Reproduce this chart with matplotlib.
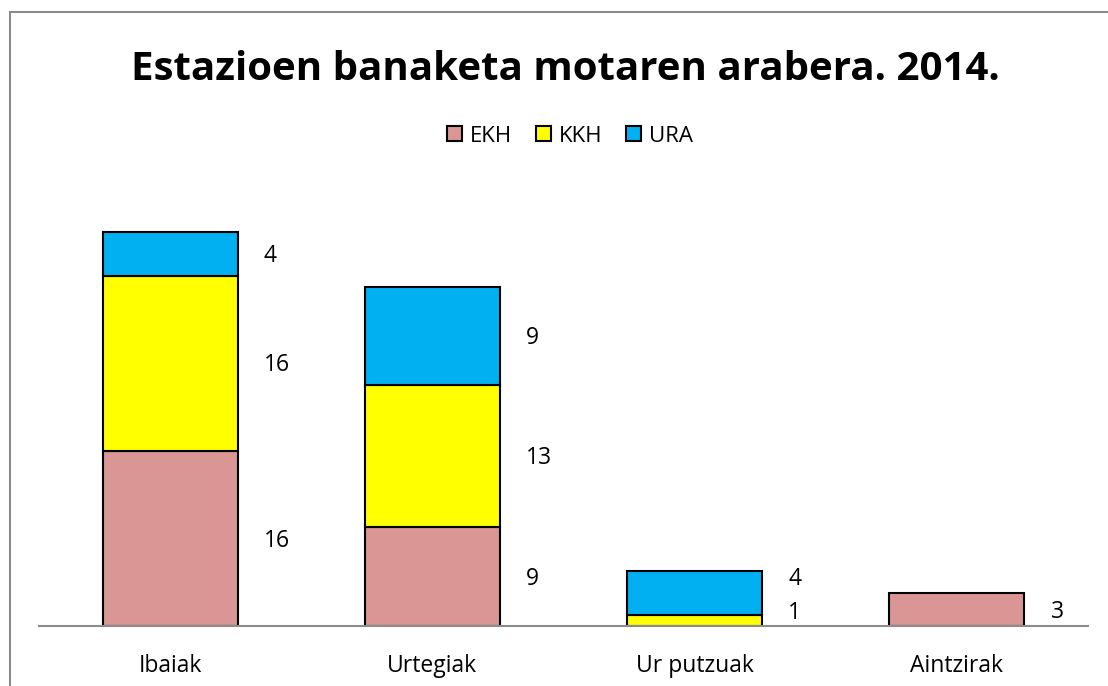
import matplotlib
matplotlib.use("Agg")
import matplotlib.pyplot as plt
from matplotlib.patches import Rectangle, Patch
import numpy as np

categories = ["Ibaiak", "Urtegiak", "Ur putzuak", "Aintzirak"]
series_names = ["EKH", "KKH", "URA"]
ekh = [16, 9, 0, 3]
kkh = [16, 13, 1, 0]
ura = [4, 9, 4, 0]
colors = ["#D99694", "#FFFF00", "#00B0F0"]
# small vertical nudges (in data units) for labels of tiny segments
label_nudge = {(2, 1): 0.9, (2, 2): 1.5}

W, H = 1108, 686
fig = plt.figure(figsize=(W / 100, H / 100), dpi=100)
fig.patch.set_facecolor("white")

# outer chart frame
fig.add_artist(Rectangle((10 / W, -0.05), 1.2, 1 - 12 / H + 0.05,
                         transform=fig.transFigure, fill=False,
                         edgecolor="#8c8c8c", linewidth=1.5))

ax_left, ax_right = 39 / W, 1088 / W
ax_bottom = 1 - 626 / H
ymax = 40
px_per_unit = 10.95
ax_top = 1 - (626 - ymax * px_per_unit) / H
ax = fig.add_axes([ax_left, ax_bottom, ax_right - ax_left, ax_top - ax_bottom])

x = np.arange(len(categories))
width = 0.515
data = [ekh, kkh, ura]
bottom = np.zeros(len(categories))
for si, (vals, col, name) in enumerate(zip(data, colors, series_names)):
    vals = np.array(vals, dtype=float)
    mask = vals > 0
    ax.bar(x[mask], vals[mask], width, bottom=bottom[mask], color=col,
           edgecolor="black", linewidth=1.5, label=name, zorder=3)
    for i in range(len(categories)):
        if vals[i] > 0:
            yc = bottom[i] + vals[i] / 2 + label_nudge.get((i, si), 0) - 0.2
            ax.text(x[i] + width / 2 + 0.1, yc, f"{int(vals[i])}",
                    ha="left", va="center", fontsize=16.5, family="Open Sans",
                    color="black")
    bottom += vals

ax.set_xlim(-0.5, len(categories) - 0.5)
ax.set_ylim(0, ymax)
ax.set_yticks([])
ax.set_xticks(x)
ax.set_xticklabels(categories, fontsize=16.5, family="Open Sans")
ax.tick_params(axis="x", length=0, pad=20)
for s in ["top", "right", "left"]:
    ax.spines[s].set_visible(False)
ax.spines["bottom"].set_color("#8c8c8c")
ax.spines["bottom"].set_linewidth(1.5)
ax.spines["bottom"].set_zorder(4)
ax.patch.set_alpha(0)

fig.text(565 / W, 1 - 70 / H, "Estazioen banaketa motaren arabera. 2014.",
         ha="center", va="center", fontsize=29, fontweight="bold",
         family="Open Sans")

handles = [Patch(facecolor=c, edgecolor="black", linewidth=1.5) for c in colors]
fig.legend(handles, series_names, loc="center", bbox_to_anchor=(570 / W, 1 - 136 / H),
           ncol=3, frameon=False, prop={"family": "Open Sans", "size": 16},
           handlelength=0.65, handleheight=0.65, handletextpad=0.35, columnspacing=1.1)

fig.savefig("out.png", dpi=100)
